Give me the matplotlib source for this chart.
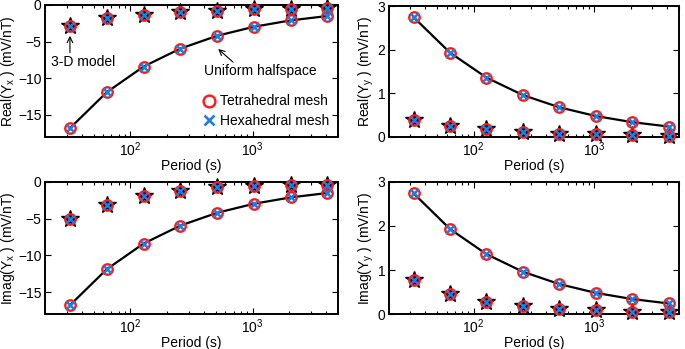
import matplotlib
matplotlib.use("Agg")
import matplotlib.pyplot as plt
from matplotlib.ticker import LogLocator, NullFormatter
from matplotlib.lines import Line2D

plt.rcParams['font.family'] = ['Liberation Sans', 'DejaVu Sans']
plt.rcParams['mathtext.fontset'] = 'custom'
plt.rcParams['mathtext.rm'] = 'Liberation Sans'
plt.rcParams['mathtext.it'] = 'Liberation Sans:italic'
plt.rcParams['font.size'] = 10

periods = [32, 64, 128, 256, 512, 1024, 2048, 4096]

half_re_yx = [-16.8, -11.9, -8.4, -5.95, -4.2, -2.97, -2.1, -1.5]
model_re_yx = [-2.8, -1.8, -1.35, -1.0, -0.77, -0.58, -0.5, -0.4]

half_re_yy = [2.74, 1.93, 1.36, 0.96, 0.68, 0.48, 0.34, 0.24]
model_re_yy = [0.40, 0.26, 0.19, 0.12, 0.08, 0.06, 0.04, 0.03]

half_im_yx = [-16.8, -11.9, -8.4, -5.95, -4.2, -2.97, -2.1, -1.5]
model_im_yx = [-5.1, -3.1, -1.86, -1.2, -0.72, -0.55, -0.38, -0.35]

half_im_yy = [2.74, 1.93, 1.36, 0.96, 0.68, 0.48, 0.34, 0.24]
model_im_yy = [0.77, 0.45, 0.28, 0.18, 0.12, 0.08, 0.05, 0.04]

W, H = 685, 349
fig = plt.figure(figsize=(W / 100, H / 100), dpi=100)

def box(l, t, r, b):
    return [l / W, 1 - b / H, (r - l) / W, (b - t) / H]

ax1 = fig.add_axes(box(45, 5, 338, 137))
ax2 = fig.add_axes(box(389, 6, 679, 137))
ax3 = fig.add_axes(box(45, 182, 338, 314))
ax4 = fig.add_axes(box(389, 182, 679, 314))

panels = [
    (ax1, half_re_yx, model_re_yx, (-18, 0), [-15, -10, -5, 0], r'Real(Y$_\mathrm{x}$ ) (mV/nT)'),
    (ax2, half_re_yy, model_re_yy, (0, 3), [0, 1, 2, 3], r'Real(Y$_\mathrm{y}$ ) (mV/nT)'),
    (ax3, half_im_yx, model_im_yx, (-18, 0), [-15, -10, -5, 0], r'Imag(Y$_\mathrm{x}$ ) (mV/nT)'),
    (ax4, half_im_yy, model_im_yy, (0, 3), [0, 1, 2, 3], r'Imag(Y$_\mathrm{y}$ ) (mV/nT)'),
]

for ax, half, model, ylim, yt, ylab in panels:
    ax.plot(periods, half, color='black', lw=1.6, zorder=2)
    ax.plot(periods, model, linestyle='none', marker='*', ms=13,
            color='black', zorder=3, clip_on=False)
    for vals in (half, model):
        ax.plot(periods, vals, linestyle='none', marker='o', ms=7.5,
                mfc='none', mec='#ff1a1a', mew=1.7, zorder=4, clip_on=False)
        ax.plot(periods, vals, linestyle='none', marker='x', ms=5.5,
                mec='#1f7fe0', mew=1.8, zorder=5, clip_on=False)
    ax.set_xscale('log')
    ax.set_xlim(20, 5000)
    ax.set_ylim(*ylim)
    ax.set_yticks(yt)
    ax.set_ylabel(ylab, labelpad=1, fontsize=10)
    ax.set_xlabel('Period (s)', labelpad=0)
    ax.xaxis.set_major_locator(LogLocator(base=10, numticks=10))
    ax.xaxis.set_minor_locator(LogLocator(base=10, subs=range(2, 10), numticks=20))
    ax.xaxis.set_minor_formatter(NullFormatter())
    ax.tick_params(which='both', direction='in', top=True, right=True, width=0.8)
    ax.tick_params(which='major', length=4, pad=2.5, labelsize=10)
    ax.tick_params(which='minor', length=2)
    for s in ax.spines.values():
        s.set_linewidth(1.4)

handles = [
    Line2D([], [], linestyle='none', marker='o', ms=8.5, mfc='none', mec='#ff1a1a', mew=1.7),
    Line2D([], [], linestyle='none', marker='x', ms=7.5, mec='#1f7fe0', mew=1.9),
]
ax1.legend(handles, ['Tetrahedral mesh', 'Hexahedral mesh'], loc='lower right',
           frameon=False, handletextpad=0.2, labelspacing=0.4, borderaxespad=0.25,
           handlelength=1.2, fontsize=10)

arrow = dict(arrowstyle='->', lw=0.8, color='black', shrinkA=0, shrinkB=0)
ax1.annotate('', xy=(32, -4.2), xytext=(32, -6.5), arrowprops=arrow)
ax1.text(41, -7.8, '3-D model', ha='center', va='center', fontsize=10)
ax1.annotate('', xy=(523, -6.0), xytext=(693, -7.8), arrowprops=arrow)
ax1.text(1160, -9.0, 'Uniform halfspace', ha='center', va='center', fontsize=10)

fig.savefig('out.png', dpi=100)
